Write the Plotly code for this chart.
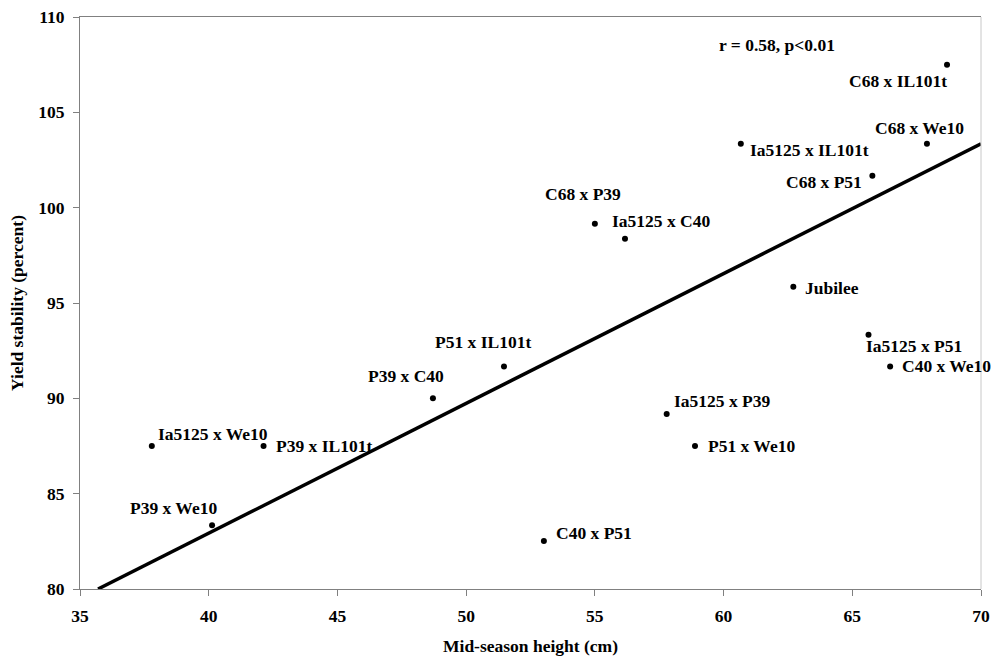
import plotly.graph_objects as go

# Hybrids: mid-season height (cm) vs yield stability (percent)
names = [
    "C68 x IL101t", "C68 x We10", "Ia5125 x IL101t", "C68 x P51",
    "C68 x P39", "Ia5125 x C40", "Jubilee", "Ia5125 x P51",
    "C40 x We10", "P51 x IL101t", "P39 x C40", "Ia5125 x P39",
    "Ia5125 x We10", "P39 x IL101t", "P51 x We10", "P39 x We10",
    "C40 x P51",
]
height_cm = [68.68, 67.9, 60.67, 65.78, 55.0, 56.17, 62.71, 65.63,
             66.47, 51.47, 48.71, 57.79, 37.79, 42.13, 58.89, 40.13, 53.02]
stability = [107.5, 103.35, 103.35, 101.67, 99.15, 98.37, 95.85, 93.33,
             91.67, 91.67, 90.0, 89.18, 87.5, 87.5, 87.5, 83.34, 82.52]

# regression line ends
fit_x = [35.7, 70]
fit_y = [80, 103.35]

x_ticks = [35, 40, 45, 50, 55, 60, 65, 70]
y_ticks = [80, 85, 90, 95, 100, 105, 110]

# label placement: (xanchor, dx px, dy px downwards)
label_pos = {
    "C68 x IL101t": ("right", 2, 16),
    "C68 x We10": ("center", -7, -16),
    "Ia5125 x IL101t": ("left", 7, 6),
    "C68 x P51": ("right", -8, 6),
    "C68 x P39": ("center", -12, -30),
    "Ia5125 x C40": ("left", -15, -18),
    "Jubilee": ("left", 10, 1),
    "Ia5125 x P51": ("left", -5, 11),
    "C40 x We10": ("left", 10, 0),
    "P51 x IL101t": ("center", -21, -24),
    "P39 x C40": ("center", -27, -22),
    "Ia5125 x P39": ("left", 5, -13),
    "Ia5125 x We10": ("left", 4, -12),
    "P39 x IL101t": ("left", 10, 0),
    "P51 x We10": ("left", 11, 0),
    "P39 x We10": ("center", -39, -17),
    "C40 x P51": ("left", 10, -8),
}

FONT = "Liberation Serif, Times New Roman, serif"

fig = go.Figure()

fig.add_trace(go.Scatter(
    x=fit_x, y=fit_y, mode="lines",
    line=dict(color="black", width=3.5),
    hoverinfo="skip",
))

fig.add_trace(go.Scatter(
    x=height_cm, y=stability, mode="markers",
    marker=dict(color="black", size=6),
    text=names,
))

for n, xv, yv in zip(names, height_cm, stability):
    anchor, dx, dy = label_pos[n]
    fig.add_annotation(
        x=xv, y=yv, text=n, showarrow=False,
        xanchor=anchor, yanchor="middle",
        xshift=dx, yshift=-dy,
        font=dict(family=FONT, size=17.5, color="black", weight="bold"),
    )

fig.add_annotation(
    x=62.06, y=108.53, text="r = 0.58, p<0.01", showarrow=False,
    xanchor="center", yanchor="middle",
    font=dict(family=FONT, size=17.5, color="black", weight="bold"),
)

# right border of the plot area, lighter than the axes
fig.add_shape(type="line", xref="paper", yref="paper",
              x0=1, x1=1, y0=0, y1=1,
              line=dict(color="#c8c8c8", width=1))

fig.update_layout(
    width=1000, height=664,
    margin=dict(l=80, r=19, t=17, b=75),
    paper_bgcolor="white", plot_bgcolor="white",
    showlegend=False,
    font=dict(family=FONT, size=17.5, color="black", weight="bold"),
    xaxis=dict(
        range=[35, 70], tickvals=x_ticks, automargin=False,
        showgrid=False, zeroline=False,
        showline=True, linecolor="#808080", linewidth=1, mirror=True,
        ticks="outside", ticklen=6, tickcolor="#808080",
        ticklabelstandoff=5,
        title=dict(text="Mid-season height (cm)", standoff=14,
                   font=dict(family=FONT, size=17.5, weight="bold")),
    ),
    yaxis=dict(
        range=[80, 110], tickvals=y_ticks, automargin=False,
        showgrid=False, zeroline=False,
        showline=True, linecolor="#808080", linewidth=1,
        ticks="outside", ticklen=6, tickcolor="#808080",
        ticklabelstandoff=5,
        title=dict(text="Yield stability (percent)", standoff=10,
                   font=dict(family=FONT, size=17.5, weight="bold")),
    ),
)

# drop the browser's default page margin so the figure sits at 0,0
fig.write_html("out.html", config={"displayModeBar": False},
               post_script="document.body.style.margin='0';")
